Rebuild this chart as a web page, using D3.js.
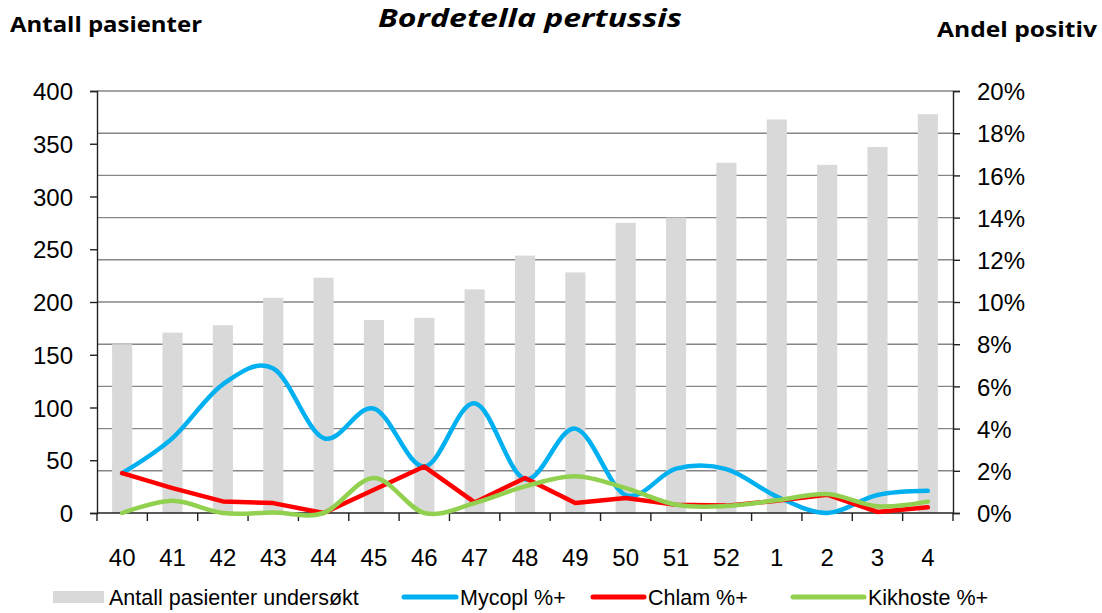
<!DOCTYPE html>
<html>
<head>
<meta charset="utf-8">
<script src="https://cdn.jsdelivr.net/npm/d3@7"></script>
<style>
  body { margin: 0; background: #fff; }
  svg { display: block; }
</style>
</head>
<body>
<svg width="1102" height="613"></svg>
<script>
// week numbers on the x axis
const weeks = ['40','41','42','43','44','45','46','47','48','49','50','51','52','1','2','3','4'];
// number of patients tested (bars, left axis)
const antall = [160, 171, 178, 204, 223, 183, 185, 212, 244, 228, 275, 280, 332, 373, 330, 347, 378];
// share positive, percent (right axis)
const mycopl = [1.89, 3.55, 6.1, 6.85, 3.55, 4.95, 2.2, 5.2, 1.6, 4.0, 0.85, 2.1, 2.08, 0.78, 0.0, 0.85, 1.05];
const chlam = [1.89, 1.18, 0.55, 0.47, 0.0, 1.1, 2.2, 0.5, 1.66, 0.47, 0.71, 0.39, 0.35, 0.58, 0.87, 0.05, 0.27];
const kikhoste = [0.0, 0.58, 0.0, 0.02, 0.0, 1.66, 0.0, 0.47, 1.26, 1.74, 1.18, 0.39, 0.33, 0.6, 0.9, 0.32, 0.54];
const leftTicks = [0, 50, 100, 150, 200, 250, 300, 350, 400];
const rightTicks = [0, 2, 4, 6, 8, 10, 12, 14, 16, 18, 20];

const svg = d3.select('svg');
const margin = {top: 91, left: 97, right: 149, bottom: 100};
const width = 1102, height = 613;
const x0 = margin.left, x1 = width - margin.right;
const y0 = height - margin.bottom, y1 = margin.top;

const x = d3.scaleBand().domain(weeks).range([x0, x1]).padding(0);
const yL = d3.scaleLinear().domain([0, 400]).range([y0, y1]);
const yR = d3.scaleLinear().domain([0, 20]).range([y0, y1]);

const font = "'Liberation Sans', Arial, sans-serif";

// gridlines follow the right axis
svg.append('g').selectAll('line').data(rightTicks.slice(1)).enter().append('line')
    .attr('x1', x0).attr('x2', x1)
    .attr('y1', d => yR(d)).attr('y2', d => yR(d))
    .attr('stroke', '#868686').attr('stroke-width', 1.4);

// bars
const bw = x.bandwidth() * 0.4;
svg.append('g').selectAll('rect').data(antall).enter().append('rect')
    .attr('x', (d, i) => x(weeks[i]) + x.bandwidth() / 2 - bw / 2)
    .attr('y', d => yL(d))
    .attr('width', bw)
    .attr('height', d => y0 - yL(d))
    .attr('fill', '#d9d9d9');

// axes
const axisL = svg.append('g').attr('transform', `translate(${x0},0)`)
    .call(d3.axisLeft(yL).tickValues(leftTicks).tickSize(7).tickPadding(17));
const axisR = svg.append('g').attr('transform', `translate(${x1},0)`)
    .call(d3.axisRight(yR).tickValues(rightTicks).tickSize(7).tickPadding(17).tickFormat(d => d + '%'));
const axisB = svg.append('g').attr('transform', `translate(0,${y0})`)
    .call(d3.axisBottom(x).tickSize(0).tickPadding(36));
axisB.select('.domain').remove();

// x tick marks at band boundaries
const bounds = weeks.map(w => x(w)).concat([x1]);
svg.append('g').selectAll('line').data(bounds).enter().append('line')
    .attr('x1', d => d).attr('x2', d => d)
    .attr('y1', y0).attr('y2', y0 + 8)
    .attr('stroke', '#222').attr('stroke-width', 1.4);
svg.append('line').attr('x1', x0).attr('x2', x1).attr('y1', y0).attr('y2', y0)
    .attr('stroke', '#222').attr('stroke-width', 1.6);

[axisL, axisR, axisB].forEach(a => {
  a.selectAll('.domain, .tick line').attr('stroke', '#222').attr('stroke-width', 1.4);
  a.selectAll('text').attr('font-family', font).attr('font-size', 24).attr('fill', '#000');
});
axisL.selectAll('text').attr('dy', '0.36em');
axisR.selectAll('text').attr('dy', '0.36em');

// lines
const cx = i => x(weeks[i]) + x.bandwidth() / 2;
const smooth = d3.line().x((d, i) => cx(i)).y(d => yR(d)).curve(d3.curveCardinal.tension(0));
const straight = d3.line().x((d, i) => cx(i)).y(d => yR(d));

const series = [
  {name: 'Mycopl %+', values: mycopl, color: '#00b0f0', gen: smooth},
  {name: 'Chlam %+', values: chlam, color: '#ff0000', gen: straight},
  {name: 'Kikhoste %+', values: kikhoste, color: '#92d050', gen: smooth}
];
series.forEach(s => {
  svg.append('path').datum(s.values)
      .attr('d', s.gen)
      .attr('fill', 'none')
      .attr('stroke', s.color)
      .attr('stroke-width', 4.5)
      .attr('stroke-linejoin', 'round')
      .attr('stroke-linecap', 'round');
});

// titles
const titleFont = "'Open Sans', 'Noto Sans', sans-serif";
svg.append('text').attr('x', 378).attr('y', 27)
    .attr('font-family', titleFont).attr('font-weight', 'bold').attr('font-style', 'italic')
    .attr('font-size', 25).attr('textLength', 304).attr('lengthAdjust', 'spacingAndGlyphs')
    .text('Bordetella pertussis');
svg.append('text').attr('x', 10).attr('y', 32)
    .attr('font-family', titleFont).attr('font-weight', 'bold')
    .attr('font-size', 21).attr('textLength', 192).attr('lengthAdjust', 'spacingAndGlyphs')
    .text('Antall pasienter');
svg.append('text').attr('x', 937).attr('y', 37)
    .attr('font-family', titleFont).attr('font-weight', 'bold')
    .attr('font-size', 21).attr('textLength', 160).attr('lengthAdjust', 'spacingAndGlyphs')
    .text('Andel positiv');

// legend
const legY = 597;
const leg = svg.append('g').attr('font-family', font).attr('font-size', 21.5);
leg.append('rect').attr('x', 53).attr('y', legY - 6).attr('width', 51).attr('height', 12).attr('fill', '#d9d9d9');
leg.append('text').attr('x', 109).attr('y', legY).attr('dy', '0.35em').text('Antall pasienter undersøkt');
const legItems = [
  {s: series[0], lx: 404, tx: 460},
  {s: series[1], lx: 593, tx: 648},
  {s: series[2], lx: 793, tx: 868}
];
legItems.forEach(it => {
  leg.append('line').attr('x1', it.lx).attr('x2', it.tx - 4).attr('y1', legY).attr('y2', legY)
      .attr('stroke', it.s.color).attr('stroke-width', 5).attr('stroke-linecap', 'round');
  leg.append('text').attr('x', it.tx).attr('y', legY).attr('dy', '0.35em').text(it.s.name);
});
</script>
</body>
</html>
